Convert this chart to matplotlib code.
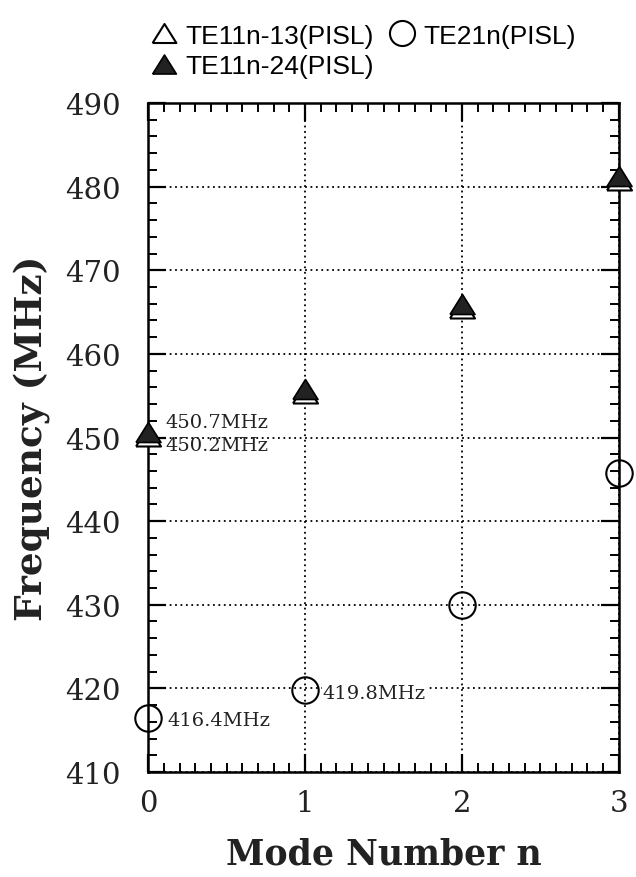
import matplotlib.pyplot as plt
from matplotlib.ticker import MultipleLocator

# mode number n and resonant frequencies (MHz)
mode_n = [0, 1, 2, 3]
te11_13 = [450.2, 455.3, 465.5, 480.8]   # open triangles
te11_24 = [450.7, 455.8, 466.0, 481.3]   # filled triangles
te21 = [416.4, 419.8, 430.0, 445.7]      # open circles

# labelled points: (n, freq, text)
notes = [(0, 450.7, "450.7MHz"), (0, 450.2, "450.2MHz"),
         (0, 416.4, "416.4MHz"), (1, 419.8, "419.8MHz")]

serif = "DejaVu Serif"
# slightly flattened triangle, like the scanned figure
tri = [(-1, -0.8), (1, -0.8), (0, 0.8), (-1, -0.8)]

fig = plt.figure(figsize=(6.36, 8.78), dpi=100)
ax = fig.add_axes([0.233, 0.1196, 0.740, 0.7619])

ax.plot(mode_n, te11_13, ls="none", marker=tri, ms=18, mfc="white", mec="black",
        mew=1.5, label="TE11n-13(PISL)", clip_on=False, zorder=3)
ax.plot(mode_n, te11_24, ls="none", marker=tri, ms=18, mfc="#222222", mec="black",
        mew=1.2, label="TE11n-24(PISL)", clip_on=False, zorder=4)
ax.plot(mode_n, te21, ls="none", marker="o", ms=19, mfc="none", mec="black",
        mew=1.5, label="TE21n(PISL)", clip_on=False, zorder=3)

ax.set_xlim(0, 3)
ax.set_ylim(410, 490)
ax.xaxis.set_major_locator(MultipleLocator(1))
ax.xaxis.set_minor_locator(MultipleLocator(0.1))
ax.yaxis.set_major_locator(MultipleLocator(10))
ax.yaxis.set_minor_locator(MultipleLocator(2))

ax.tick_params(which="both", direction="in", top=True, right=True, color="black")
ax.tick_params(which="major", length=13, width=1.6)
ax.tick_params(which="minor", length=6.5, width=1.4)
ax.tick_params(axis="y", which="major", pad=20)
ax.tick_params(axis="x", which="major", pad=12)
for lab in ax.get_xticklabels() + ax.get_yticklabels():
    lab.set_fontfamily(serif)
    lab.set_fontsize(21)
    lab.set_color("#222222")

for sp in ax.spines.values():
    sp.set_linewidth(1.8)

ax.grid(True, which="major", color="black", linestyle=(0, (1, 2)), linewidth=1.3)
ax.set_axisbelow(True)

ax.set_xlabel("Mode Number n", fontfamily=serif, fontweight="bold", fontsize=25,
              labelpad=14, color="#222222")
ax.set_ylabel("Frequency (MHz)", fontfamily=serif, fontweight="bold", fontsize=27,
              labelpad=10, color="#222222")

# value labels
offs = {"450.7MHz": (0.11, 1.2), "450.2MHz": (0.11, -1.1),
        "416.4MHz": (0.12, -0.2), "419.8MHz": (0.11, -0.3)}
for n, f, t in notes:
    dx, dy = offs[t]
    ax.text(n + dx, f + dy, t, fontfamily=serif, fontsize=14, va="center",
            ha="left", color="#222222",
            bbox=dict(facecolor="white", edgecolor="none", pad=0.5) if t == "419.8MHz" else None)

handles, labels = ax.get_legend_handles_labels()
fig.legend(handles, labels, loc="upper left", bbox_to_anchor=(0.215, 0.99), ncol=2,
           frameon=False, prop={"family": "Liberation Sans", "size": 19},
           handletextpad=0.35, columnspacing=0.6, labelspacing=0.25,
           handlelength=0.9, markerscale=0.95, borderaxespad=0.2)

fig.savefig("out.png", dpi=100)
